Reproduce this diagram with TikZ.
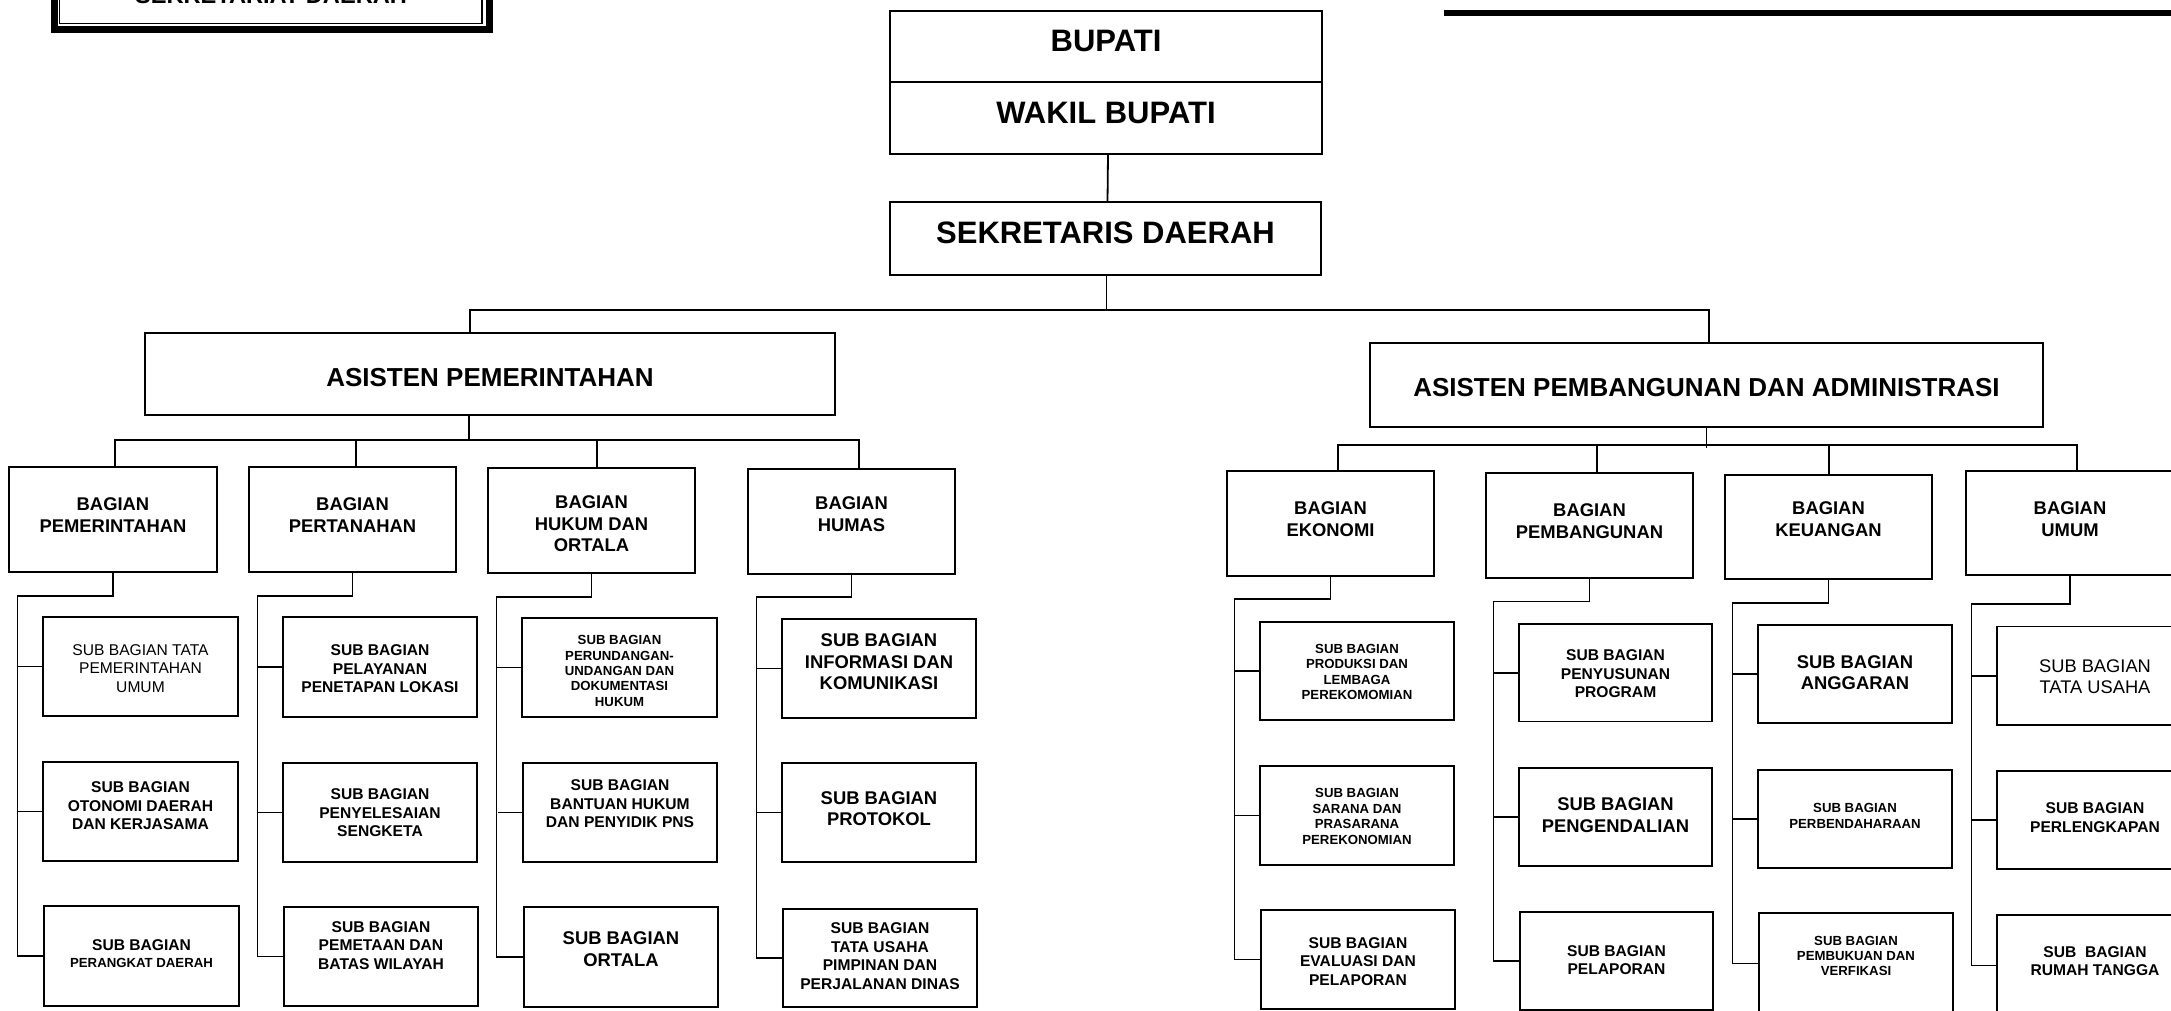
\documentclass[tikz,border=0pt]{standalone}
\usepackage{fontspec}
\setmainfont{Liberation Sans}
\newcommand{\fz}[2]{\fontsize{#1pt}{#2pt}\selectfont}
% box with its text: name, x1, y1, x2, y2, text centre y, text style, text
\newcommand{\obx}[8]{%
  \node[bx, minimum width={(#4-#2)*1pt}, minimum height={(#5-#3)*1pt}] (#1) at ({(#2+#4)/2},{(#3+#5)/2}) {};
  \node[#7] (#1t) at ({(#2+#4)/2},#6) {#8};}
% parent to three sub boxes: parent, sub1, sub2, sub3, drop
\newcommand{\subsconn}[5]{%
  \draw[cn] (#1.south) -- ++(0,#5) -| ([xshift=-25.5pt]#2.west) |- (#4.west);
  \draw[cn] (#2.west) -- ++(-25.5,0);
  \draw[cn] (#3.west) -- ++(-25.5,0);}
\tikzset{
  bx/.style={draw=black, line width=1.8pt, rectangle, inner sep=0pt, outer sep=0pt},
  cn/.style={draw=black, line width=1.8pt, line join=miter},
  tx/.style={align=center, inner sep=0pt, text=black},
  txHuge/.style={tx, font=\fz{31}{34}\bfseries},
  txAsis/.style={tx, font=\fz{26}{30}\bfseries},
  txL/.style={tx, font=\fz{18.4}{21.6}\bfseries},
  txLr/.style={tx, font=\fz{18.3}{21.2}},
  txM/.style={tx, font=\fz{15.6}{18.6}\bfseries},
  txMr/.style={tx, font=\fz{15.6}{18.5}},
  txS/.style={tx, font=\fz{13.2}{15.4}\bfseries},
}
\begin{document}
\begin{tikzpicture}[x=1pt,y=-1pt]
\useasboundingbox (0,0) rectangle (2171,1011);
\clip (0,0) rectangle (2171,1011);

% title frame (cut at the top)
\draw[line width=7pt] (54,-20) rectangle (489,30);
\draw[line width=1.5pt] (59.5,-20) rectangle (482,23.5);
\node[anchor=base, inner sep=0pt, font=\fz{23.6}{26}\bfseries] (sdt) at (271,3.5) {SEKRETARIAT DAERAH};
% top right rule
\draw[line width=5.5pt] (1444,13) -- (2190,13);

% top level
\obx{bup}{890}{11}{1322}{82}{41}{txHuge}{BUPATI}
\obx{wbup}{890}{82}{1322}{154}{113}{txHuge}{WAKIL BUPATI}
\obx{sekda}{890}{202}{1321}{275}{233}{txHuge}{SEKRETARIS DAERAH}
\obx{apem}{145}{333}{835}{415}{378}{txAsis}{ASISTEN PEMERINTAHAN}
\obx{aspb}{1370}{343}{2043}{427}{388}{txAsis}{ASISTEN PEMBANGUNAN DAN ADMINISTRASI}

% bagian
\obx{bpem}{9}{467}{217}{572}{515}{txL}{BAGIAN\\PEMERINTAHAN}
\obx{bper}{249}{467}{456}{572}{515}{txL}{BAGIAN\\PERTANAHAN}
\obx{bhuk}{488}{468}{695}{573}{524}{txL}{BAGIAN\\HUKUM DAN\\ORTALA}
\obx{bhum}{748}{469}{955}{574}{514}{txL}{BAGIAN\\HUMAS}
\obx{beko}{1227}{471}{1434}{576}{519}{txL}{BAGIAN\\EKONOMI}
\obx{bpmb}{1486}{473}{1693}{578}{521}{txL}{BAGIAN\\PEMBANGUNAN}
\obx{bkeu}{1725}{475}{1932}{579}{519}{txL}{BAGIAN\\KEUANGAN}
\obx{bumu}{1966}{471}{2174}{575}{519}{txL}{BAGIAN\\UMUM}

% sub bagian
\obx{s11}{43}{617}{238}{716}{668.5}{txMr}{SUB BAGIAN TATA\\PEMERINTAHAN\\UMUM}
\obx{s12}{43}{762}{238}{861}{806}{txM}{SUB BAGIAN\\OTONOMI DAERAH\\DAN KERJASAMA}
\obx{s13}{44}{906}{239}{1006}{953.5}{txS}{{\fz{15.6}{17}SUB BAGIAN}\\[1.5pt]PERANGKAT DAERAH}
\obx{s21}{283}{617}{477}{717}{669}{txM}{SUB BAGIAN\\PELAYANAN\\PENETAPAN LOKASI}
\obx{s22}{283}{763}{477}{862}{813}{txM}{SUB BAGIAN\\PENYELESAIAN\\SENGKETA}
\obx{s23}{284}{907}{478}{1006}{945.5}{txM}{SUB BAGIAN\\PEMETAAN DAN\\BATAS WILAYAH}
\obx{s31}{522}{618}{717}{717}{671}{txS}{SUB BAGIAN\\PERUNDANGAN-\\UNDANGAN DAN\\DOKUMENTASI\\HUKUM}
\obx{s32}{523}{763}{717}{862}{804}{txM}{SUB BAGIAN\\BANTUAN HUKUM\\DAN PENYIDIK PNS}
\obx{s33}{524}{907}{718}{1007}{949}{txL}{SUB BAGIAN\\ORTALA}
\obx{s41}{782}{619}{976}{718}{662}{txL}{SUB BAGIAN\\INFORMASI DAN\\KOMUNIKASI}
\obx{s42}{782}{763}{976}{862}{808.5}{txL}{SUB BAGIAN\\PROTOKOL}
\obx{s43}{783}{909}{977}{1007}{956}{txM}{SUB BAGIAN\\TATA USAHA\\PIMPINAN DAN\\PERJALANAN DINAS}
\obx{s51}{1260}{622}{1454}{720}{672}{txS}{SUB BAGIAN\\PRODUKSI DAN\\LEMBAGA\\PEREKOMOMIAN}
\obx{s52}{1260}{766}{1454}{865}{816.5}{txS}{SUB BAGIAN\\SARANA DAN\\PRASARANA\\PEREKONOMIAN}
\obx{s53}{1261}{910}{1455}{1009}{961.5}{txM}{SUB BAGIAN\\EVALUASI DAN\\PELAPORAN}
\obx{s61}{1519}{624}{1712}{721.5}{674}{txM}{SUB BAGIAN\\PENYUSUNAN\\PROGRAM}
\obx{s62}{1519}{768}{1712}{866}{815}{txL}{SUB BAGIAN\\PENGENDALIAN}
\obx{s63}{1520}{912}{1713}{1010}{960}{txM}{SUB BAGIAN\\PELAPORAN}
\obx{s71}{1758}{625}{1952}{723}{672.5}{txL}{SUB BAGIAN\\ANGGARAN}
\obx{s72}{1758}{770}{1952}{868}{816}{txS}{SUB BAGIAN\\PERBENDAHARAAN}
\obx{s73}{1759}{913}{1953}{1014}{956}{txS}{SUB BAGIAN\\PEMBUKUAN DAN\\VERFIKASI}
\obx{s81}{1997}{626.5}{2193}{725}{677}{txLr}{SUB BAGIAN\\TATA USAHA}
\obx{s82}{1997}{771}{2193}{869}{817.5}{txM}{SUB BAGIAN\\PERLENGKAPAN}
\obx{s83}{1997}{915}{2193}{1016}{961}{txM}{SUB\ \ BAGIAN\\RUMAH TANGGA}

% connectors, top
\coordinate (bar0) at (0,310);
\coordinate (barL) at (0,440);
\coordinate (barR) at (0,445);
\draw[cn] ([xshift=2pt]wbup.south) -- ([xshift=2pt]sekda.north);
\draw[cn] ([xshift=1pt]sekda.south) -- ([xshift=1pt]sekda.south |- bar0);
\draw[cn] ([xshift=-20pt]apem.north) -- ([xshift=-20pt]apem.north |- bar0) -| ([xshift=2.5pt]aspb.north);

% asisten to bagian
\draw[cn] ([xshift=-21pt]apem.south) -- ([xshift=-21pt]apem.south |- barL);
\draw[cn] ([xshift=2pt]bpem.north) -- ([xshift=2pt]bpem.north |- barL) -| ([xshift=7.5pt]bhum.north);
\draw[cn] ([xshift=3.5pt]bper.north) -- ([xshift=3.5pt]bper.north |- barL);
\draw[cn] ([xshift=5.5pt]bhuk.north) -- ([xshift=5.5pt]bhuk.north |- barL);

\draw[cn] (aspb.south) -- ([yshift=-3pt]aspb.south |- barR);
\draw[cn] ([xshift=7.5pt]beko.north) -- ([xshift=7.5pt]beko.north |- barR) -| ([xshift=7pt]bumu.north);
\draw[cn] ([xshift=7.5pt]bpmb.north) -- ([xshift=7.5pt]bpmb.north |- barR);
\draw[cn] ([xshift=0.5pt]bkeu.north) -- ([xshift=0.5pt]bkeu.north |- barR);

% bagian to sub bagian
\subsconn{bpem}{s11}{s12}{s13}{24}
\subsconn{bper}{s21}{s22}{s23}{24}
\subsconn{bhuk}{s31}{s32}{s33}{24}
\subsconn{bhum}{s41}{s42}{s43}{23}
\subsconn{beko}{s51}{s52}{s53}{23}
\subsconn{bpmb}{s61}{s62}{s63}{23.5}
\subsconn{bkeu}{s71}{s72}{s73}{24}
\subsconn{bumu}{s81}{s82}{s83}{29}
\end{tikzpicture}
\end{document}
